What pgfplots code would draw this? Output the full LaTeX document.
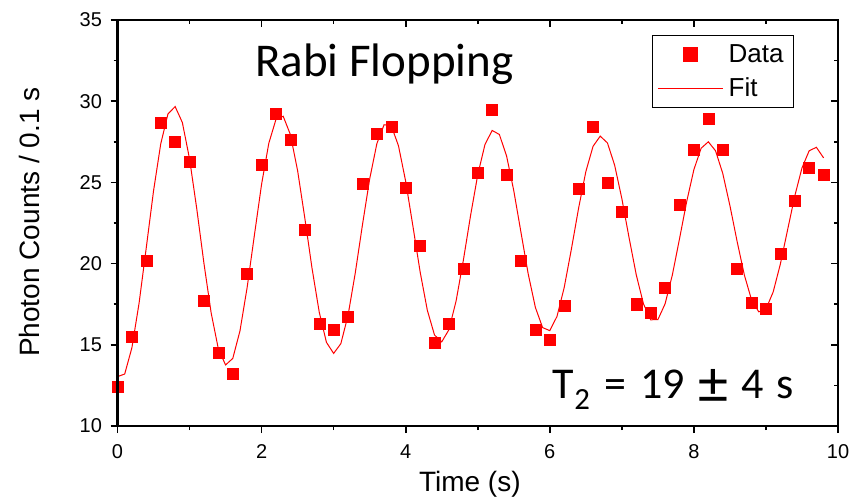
\documentclass[border=0pt]{standalone}
\usepackage{fontspec}
\setmainfont{Liberation Sans}
\newfontfamily\calibri{Carlito}
\usepackage{pgfplots}
\pgfplotsset{compat=1.18}

\begin{document}
\begin{tikzpicture}
% page frame around the axis box
\path[use as bounding box] (-117.5pt,-75pt) rectangle (745.5pt,426pt);

% shared frame settings
\pgfplotsset{
  frame/.style={
    at={(0pt,0pt)}, anchor=south west,
    scale only axis, width=720.5pt, height=406pt,
    xmin=0, xmax=10, ymin=10, ymax=35,
    xtick={0,2,...,10}, ytick={10,15,...,35},
    minor x tick num=1, minor y tick num=1,
    major tick length=7pt, minor tick length=4pt,
    axis line style={line width=2.2pt, black},
    every tick/.style={line width=1.6pt, black},
  }
}

\begin{axis}[
  frame,
  tick align=outside, xtick pos=bottom, ytick pos=left,
  /pgf/number format/assume math mode=true,
  ticklabel style={font=\fontsize{20}{24}\selectfont},
  xticklabel style={yshift=-8pt},
  yticklabel style={xshift=-5pt},
  xlabel={Time (s)},
  ylabel={Photon Counts / 0.1 s},
  label style={font=\fontsize{28}{32}\selectfont},
  xlabel style={at={(axis description cs:0.489,-0.162)}, anchor=base, inner sep=0pt},
  ylabel style={at={(axis description cs:-0.1076,0.502)}, anchor=base, inner sep=0pt},
  legend style={
    at={(axis description cs:0.939,0.963)}, anchor=north east,
    draw=black, line width=1pt,
    font=\fontsize{26}{30}\selectfont,
    inner xsep=5pt, inner ysep=7pt, row sep=10pt,
    nodes={inner xsep=5pt, inner ysep=2pt},
  },
  legend cell align=left,
  legend image code/.code={%
    \draw[mark repeat=2,mark phase=2,#1,mark size=7pt]
      plot coordinates {(0pt,0pt) (32pt,0pt) (65pt,0pt)};},
]

\addplot[only marks, mark=square*, mark size=5.5pt, red, fill=red]
coordinates {
(0,12.4) (0.2,15.5) (0.4,20.2) (0.6,28.7) (0.8,27.5) (1.0,26.3) (1.2,17.7)
(1.4,14.5) (1.6,13.2) (1.8,19.4) (2.0,26.1) (2.2,29.2) (2.4,27.6) (2.6,22.1)
(2.8,16.3) (3.0,15.9) (3.2,16.7) (3.4,24.9) (3.6,28.0) (3.8,28.4) (4.0,24.7)
(4.2,21.1) (4.4,15.1) (4.6,16.3) (4.8,19.7) (5.0,25.6) (5.2,29.5) (5.4,25.5)
(5.6,20.2) (5.8,15.9) (6.0,15.3) (6.2,17.4) (6.4,24.6) (6.6,28.4) (6.8,25.0)
(7.0,23.2) (7.2,17.5) (7.4,17.0) (7.6,18.5) (7.8,23.6) (8.0,27.0) (8.2,28.9)
(8.4,27.0) (8.6,19.7) (8.8,17.6) (9.0,17.2) (9.2,20.6) (9.4,23.9) (9.6,25.9)
(9.8,25.5)
};
\addlegendentry{Data}

\addplot[red, line width=1pt, mark=none]
coordinates {
(0.0,13.04) (0.1,13.20) (0.2,14.82) (0.3,17.58) (0.4,21.00) (0.5,24.47)
(0.6,27.37) (0.7,29.21) (0.8,29.67) (0.9,28.69) (1.0,26.45) (1.1,23.38)
(1.2,20.01) (1.3,16.96) (1.4,14.74) (1.5,13.76) (1.6,14.16) (1.7,15.86)
(1.8,18.55) (1.9,21.75) (2.0,24.89) (2.1,27.41) (2.2,28.89) (2.3,29.07)
(2.4,27.94) (2.5,25.72) (2.6,22.80) (2.7,19.71) (2.8,17.01) (2.9,15.15)
(3.0,14.47) (3.1,15.07) (3.2,16.82) (3.3,19.42) (3.4,22.39) (3.5,25.21)
(3.6,27.39) (3.7,28.55) (3.8,28.49) (3.9,27.25) (4.0,25.06) (4.1,22.31)
(4.2,19.50) (4.3,17.13) (4.4,15.60) (4.5,15.18) (4.6,15.93) (4.7,17.71)
(4.8,20.20) (4.9,22.95) (5.0,25.47) (5.1,27.33) (5.2,28.20) (5.3,27.95)
(5.4,26.63) (5.5,24.49) (5.6,21.92) (5.7,19.37) (5.8,17.30) (5.9,16.06)
(6.0,15.87) (6.1,16.75) (6.2,18.53) (6.3,20.90) (6.4,23.42) (6.5,25.66)
(6.6,27.22) (6.7,27.85) (6.8,27.43) (6.9,26.06) (7.0,24.00) (7.1,21.60)
(7.2,19.31) (7.3,17.52) (7.4,16.54) (7.5,16.55) (7.6,17.52) (7.7,19.28)
(7.8,21.52) (7.9,23.82) (8.0,25.79) (8.1,27.10) (8.2,27.50) (8.3,26.95)
(8.4,25.56) (8.5,23.57) (8.6,21.36) (8.7,19.30) (8.8,17.77) (8.9,17.03)
(9.0,17.20) (9.1,18.25) (9.2,19.97) (9.3,22.07) (9.4,24.16) (9.5,25.89)
(9.6,26.95) (9.7,27.16) (9.8,26.51)
};
\addlegendentry{Fit}

\node[anchor=base west, inner sep=0pt, font=\calibri\fontsize{47}{50}\selectfont]
  at (axis cs:1.908,31.55) {Rabi Flopping};
\node[anchor=base west, inner sep=0pt, font=\calibri\fontsize{44}{48}\selectfont]
  at (axis cs:6.04,11.71)
  {T\textsubscript{2}\hspace{14pt}=\hspace{14pt}19\hspace{14pt}\raisebox{-5pt}{\fontsize{60}{60}\selectfont ±}\hspace{13pt}4\hspace{12pt}s};
\end{axis}

% inward ticks on the top and right edges
\begin{axis}[
  frame,
  tick align=inside, xtick pos=top, ytick pos=right,
  xticklabels={}, yticklabels={},
]
\end{axis}
\end{tikzpicture}
\end{document}
